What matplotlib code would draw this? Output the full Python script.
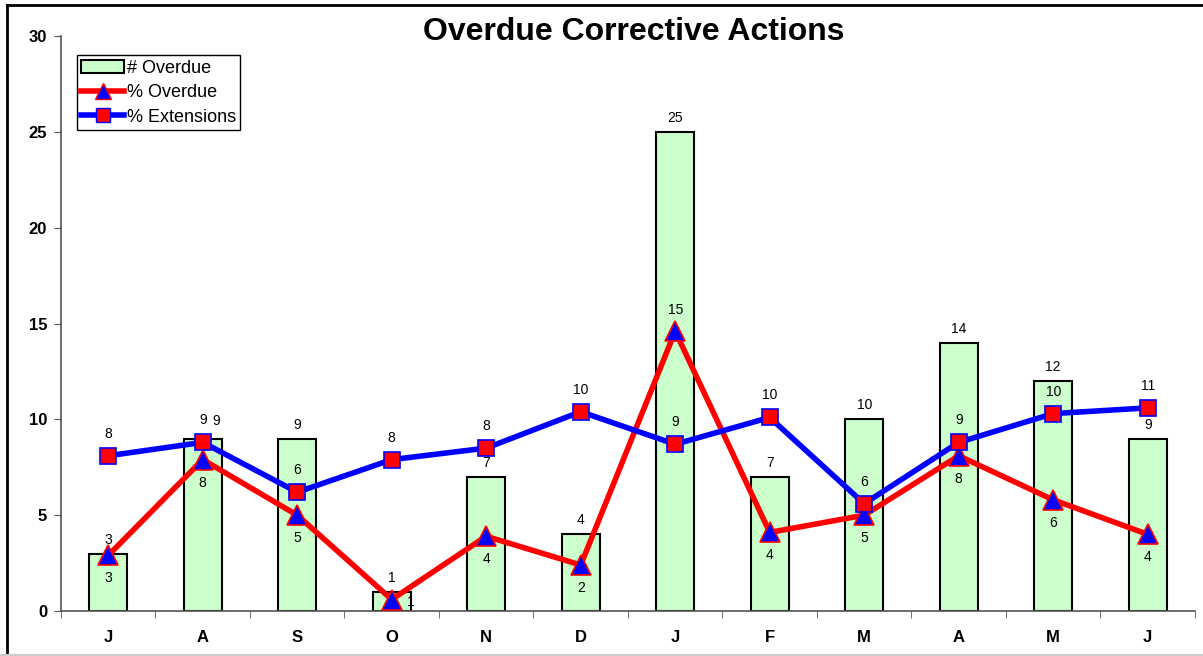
import numpy as np
import matplotlib
matplotlib.use('Agg')
import matplotlib.pyplot as plt
from matplotlib.lines import Line2D

plt.rcParams['font.family'] = ['Liberation Sans', 'DejaVu Sans']

# ---- dados ----
months = ['J', 'A', 'S', 'O', 'N', 'D', 'J', 'F', 'M', 'A', 'M', 'J']
n_overdue = [3, 9, 9, 1, 7, 4, 25, 7, 10, 14, 12, 9]
pct_overdue = [2.9, 7.9, 5.0, 0.6, 3.9, 2.4, 14.6, 4.1, 5.0, 8.1, 5.8, 4.0]
pct_ext = [8.1, 8.8, 6.2, 7.9, 8.5, 10.4, 8.7, 10.1, 5.6, 8.8, 10.3, 10.6]

x = np.arange(len(months))

fig = plt.figure(figsize=(12.03, 6.56), dpi=100)
ax = fig.add_axes([0.0507, 0.0686, 0.9426, 0.8764])

bars = ax.bar(x, n_overdue, width=0.4, color='#ccffcc', edgecolor='black',
              linewidth=1.5, zorder=2, label='# Overdue')
ax.plot(x, pct_overdue, color='red', lw=4, marker='^', ms=14,
        mfc='blue', mec='red', mew=1.2, zorder=3, label='% Overdue')
ax.plot(x, pct_ext, color='blue', lw=4, marker='s', ms=12,
        mfc='red', mec='blue', mew=1.2, zorder=4, label='% Extensions')

# rotulos de dados
lbl = dict(fontsize=10, ha='center', va='center', zorder=6)
for i, v in enumerate(n_overdue):
    dx = 0.14 if i == 1 else 0
    dy = 4 if i == 1 else 0
    ax.annotate(f'{v}', (x[i], v), xytext=(dx * 94.5, 14 + dy),
                textcoords='offset pixels', **lbl)
for i, v in enumerate(pct_overdue):
    if i == 3:
        off = (19, -2)
    elif i == 6:
        off = (0, 21)
    else:
        off = (0, -23)
    ax.annotate(f'{round(v):d}', (x[i], v), xytext=off,
                textcoords='offset pixels', **lbl)
for i, v in enumerate(pct_ext):
    ax.annotate(f'{round(v):d}', (x[i], v), xytext=(0, 22),
                textcoords='offset pixels', **lbl)

ax.set_xlim(-0.5, len(months) - 0.5)
ax.set_ylim(0, 30)
ax.set_yticks(range(0, 31, 5))
ax.set_yticklabels([str(t) for t in range(0, 31, 5)], fontweight='bold', fontsize=12)
ax.set_xticks(x)
ax.set_xticklabels(months, fontweight='bold', fontsize=12)
ax.set_xticks(np.arange(-0.5, len(months), 1), minor=True)
ax.tick_params(axis='x', which='major', length=0, pad=14)
ax.tick_params(axis='x', which='minor', length=5, direction='out', color='#555555')
ax.tick_params(axis='y', length=5, direction='out', color='#555555', pad=5)

for s in ['top', 'right']:
    ax.spines[s].set_visible(False)
for s in ['left', 'bottom']:
    ax.spines[s].set_color('#555555')
    ax.spines[s].set_linewidth(1.2)

fig.text(0.527, 0.951, 'Overdue Corrective Actions', ha='center', va='center',
         fontsize=23, fontweight='bold')

handles = [bars,
           Line2D([], [], color='red', lw=4, marker='^', ms=11,
                  mfc='blue', mec='red'),
           Line2D([], [], color='blue', lw=4, marker='s', ms=10,
                  mfc='red', mec='blue')]
leg = ax.legend(handles, ['# Overdue', '% Overdue', '% Extensions'],
                loc='upper left', bbox_to_anchor=(0.014, 0.967), fontsize=13,
                frameon=True, fancybox=False, framealpha=1, edgecolor='black',
                handlelength=2.35, handletextpad=0.15, borderpad=0.25,
                labelspacing=0.42, borderaxespad=0)
leg.get_frame().set_linewidth(1.0)

# moldura externa (so topo e esquerda visiveis)
fig.add_artist(Line2D([0.0058, 1.0], [0.9931, 0.9931], color='black', lw=2,
                      transform=fig.transFigure))
fig.add_artist(Line2D([0.0058, 0.0058], [0.0, 0.9931], color='black', lw=2,
                      transform=fig.transFigure))
fig.add_artist(Line2D([0.0, 1.0], [0.0015, 0.0015], color='#cccccc', lw=1.5,
                      transform=fig.transFigure))

fig.savefig('out.png', dpi=100)
